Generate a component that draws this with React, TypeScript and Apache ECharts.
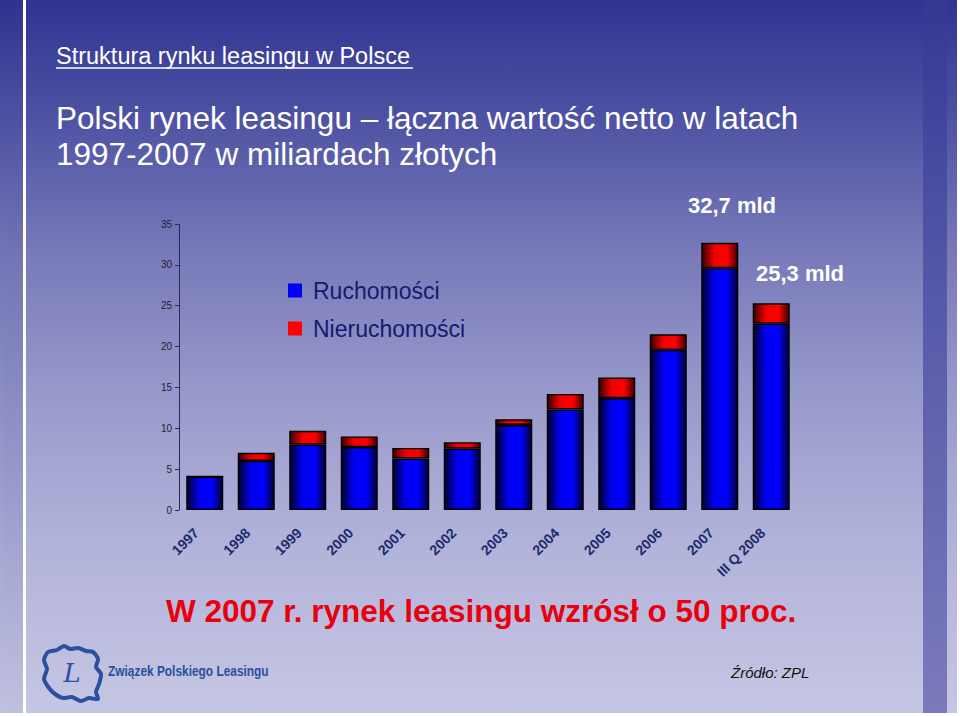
import React, { useEffect, useRef } from "react";
import * as echarts from "echarts";

const categories = ["1997", "1998", "1999", "2000", "2001", "2002", "2003", "2004", "2005", "2006", "2007", "III Q 2008"];
const ruchomosci = [4.1, 6.0, 8.0, 7.7, 6.3, 7.5, 10.4, 12.3, 13.7, 19.6, 29.6, 22.8];
const nieruchomosci = [0, 1.0, 1.7, 1.3, 1.3, 0.8, 0.7, 1.9, 2.5, 1.9, 3.1, 2.5];
const seriesNames = ["Ruchomości", "Nieruchomości"];
const yMin = 0;
const yMax = 35;
const yStep = 5;

const topTitle = "Struktura rynku leasingu w Polsce";
const titleLine1 = "Polski rynek leasingu – łączna wartość netto w latach";
const titleLine2 = "1997-2007 w miliardach złotych";
const note2007 = "32,7 mld";
const note2008 = "25,3 mld";
const headline = "W 2007 r. rynek leasingu wzrósł o 50 proc.";
const logoText = "Związek Polskiego Leasingu";
const sourceText = "Źródło: ZPL";

const FONT = "Liberation Sans, Arial, Helvetica, sans-serif";

export default function App() {
  const ref = useRef<HTMLDivElement>(null);

  useEffect(() => {
    if (!ref.current) return;
    const chart = echarts.init(ref.current, null, { renderer: "svg" });

    const blueGrad = new echarts.graphic.LinearGradient(0, 0, 1, 0, [
      { offset: 0, color: "#00002a" },
      { offset: 0.35, color: "#0000f0" },
      { offset: 0.7, color: "#0000ff" },
      { offset: 1, color: "#000030" },
    ]);
    const redGrad = new echarts.graphic.LinearGradient(0, 0, 1, 0, [
      { offset: 0, color: "#3a0000" },
      { offset: 0.35, color: "#f00000" },
      { offset: 0.7, color: "#ff0000" },
      { offset: 1, color: "#400000" },
    ]);

    const bgGrad = new echarts.graphic.LinearGradient(0, 0, 0, 1, [
      { offset: 0, color: "#303492" },
      { offset: 0.15, color: "#4b4fa1" },
      { offset: 0.35, color: "#7779b9" },
      { offset: 0.55, color: "#9899cb" },
      { offset: 0.75, color: "#b1b2d9" },
      { offset: 1, color: "#c6c6e4" },
    ]);
    const stripeGrad = new echarts.graphic.LinearGradient(0, 0, 0, 1, [
      { offset: 0, color: "#353893" },
      { offset: 0.4, color: "#5558a8" },
      { offset: 1, color: "#7b7bbb" },
    ]);
    const leftGrad = new echarts.graphic.LinearGradient(0, 0, 0, 1, [
      { offset: 0, color: "#2f3390" },
      { offset: 0.35, color: "#7173b5" },
      { offset: 1, color: "#c0c1e0" },
    ]);

    const polandPts = [
      [48, 652], [57, 650], [64, 646], [70, 649], [78, 648], [86, 651], [93, 652],
      [98, 659], [96, 667], [101, 674], [99, 684], [96, 692], [98, 699], [89, 698],
      [81, 701], [72, 697], [63, 698], [55, 694], [49, 688], [44, 679], [47, 669], [44, 660],
    ];

    const option: any = {
      animation: false,
      backgroundColor: bgGrad,
      grid: { left: 179, right: 163, top: 224, bottom: 206, containLabel: false },
      legend: {
        orient: "vertical",
        left: 283,
        top: 274,
        itemWidth: 14,
        itemHeight: 14,
        itemGap: 15,
        icon: "rect",
        textStyle: { fontSize: 23, color: "#161a6e", fontFamily: FONT, padding: [0, 0, 0, 6] },
        data: [
          { name: seriesNames[0], itemStyle: { color: "#0000ff", borderWidth: 0 } },
          { name: seriesNames[1], itemStyle: { color: "#ff0000", borderWidth: 0 } },
        ],
      },
      xAxis: {
        type: "category",
        data: categories,
        axisLine: { show: false },
        axisTick: { show: false },
        axisLabel: {
          rotate: 45,
          margin: 12,
          interval: 0,
          fontSize: 14,
          fontWeight: "bold",
          color: "#1c2a6c",
          fontFamily: FONT,
          padding: [0, 12, 0, 0],
        },
      },
      yAxis: {
        type: "value",
        min: yMin,
        max: yMax,
        interval: yStep,
        splitLine: { show: false },
        axisLine: { show: true, lineStyle: { color: "#2a2a55", width: 1 } },
        axisTick: { show: true, length: 4, lineStyle: { color: "#2a2a55" } },
        axisLabel: { fontSize: 10, color: "#222233", margin: 7, fontFamily: FONT },
      },
      series: [
        {
          name: seriesNames[0],
          type: "bar",
          stack: "total",
          barWidth: 37,
          data: ruchomosci,
          itemStyle: { color: blueGrad, borderColor: "#000000", borderWidth: 1.4 },
        },
        {
          name: seriesNames[1],
          type: "bar",
          stack: "total",
          barWidth: 37,
          data: nieruchomosci,
          itemStyle: { color: redGrad, borderColor: "#000000", borderWidth: 1.4 },
        },
      ],
      graphic: [
        { type: "rect", z: -10, shape: { x: 0, y: 0, width: 4, height: 716 }, style: { fill: leftGrad, opacity: 0.85 } },
        { type: "rect", z: -10, shape: { x: 4, y: 0, width: 19, height: 716 }, style: { fill: leftGrad } },
        { type: "rect", z: -10, shape: { x: 23, y: 0, width: 3, height: 716 }, style: { fill: "#ffffff" } },
        { type: "rect", z: -10, shape: { x: 923, y: 0, width: 24, height: 716 }, style: { fill: stripeGrad } },
        { type: "rect", z: -10, shape: { x: 957, y: 0, width: 3, height: 716 }, style: { fill: "#ffffff" } },
        { type: "rect", z: -10, shape: { x: 0, y: 713, width: 960, height: 3 }, style: { fill: "#ffffff" } },
        {
          type: "text", x: 56, y: 56,
          style: { text: topTitle, fill: "#ffffff", font: `23.5px ${FONT}`, textAlign: "left", textVerticalAlign: "middle" },
        },
        { type: "line", shape: { x1: 56, y1: 68, x2: 413, y2: 68 }, style: { stroke: "#ffffff", lineWidth: 1.5 } },
        {
          type: "text", x: 56, y: 118,
          style: { text: titleLine1, fill: "#ffffff", font: `31.5px ${FONT}`, textAlign: "left", textVerticalAlign: "middle" },
        },
        {
          type: "text", x: 56, y: 154,
          style: { text: titleLine2, fill: "#ffffff", font: `31.5px ${FONT}`, textAlign: "left", textVerticalAlign: "middle" },
        },
        {
          type: "text", x: 732, y: 205,
          style: { text: note2007, fill: "#ffffff", font: `bold 22px ${FONT}`, textAlign: "center", textVerticalAlign: "middle" },
        },
        {
          type: "text", x: 800, y: 273,
          style: { text: note2008, fill: "#ffffff", font: `bold 22px ${FONT}`, textAlign: "center", textVerticalAlign: "middle" },
        },
        {
          type: "text", x: 166, y: 611,
          style: { text: headline, fill: "#e8000e", font: `bold 31.5px ${FONT}`, textAlign: "left", textVerticalAlign: "middle" },
        },
        {
          type: "polygon",
          shape: { points: polandPts, smooth: 0.25 },
          style: { fill: "none", stroke: "#2c4f9e", lineWidth: 4 },
        },
        {
          type: "text", x: 72, y: 673,
          style: { text: "L", fill: "#2c4f9e", font: `italic 26px DejaVu Serif, serif`, textAlign: "center", textVerticalAlign: "middle" },
        },
        {
          type: "text", x: 108, y: 671, scaleX: 0.85,
          style: { text: logoText, fill: "#2c4f9e", font: `bold 14px ${FONT}`, textAlign: "left", textVerticalAlign: "middle" },
        },
        {
          type: "text", x: 731, y: 672,
          style: { text: sourceText, fill: "#111111", font: `italic 15px ${FONT}`, textAlign: "left", textVerticalAlign: "middle" },
        },
      ],
    };

    chart.setOption(option);
    return () => chart.dispose();
  }, []);

  return (
    <div
      ref={ref}
      style={{ position: "absolute", left: 0, top: 0, width: 960, height: 716 }}
    />
  );
}
